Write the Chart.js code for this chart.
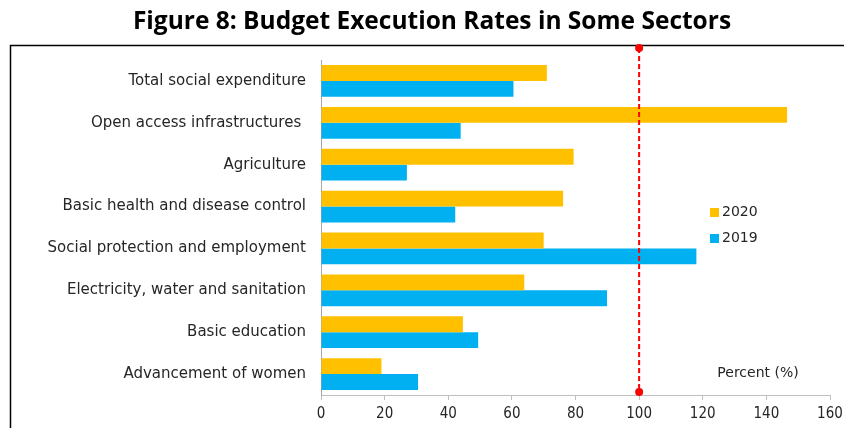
<!DOCTYPE html>
<html>
<head>
<meta charset="utf-8">
<script src="https://cdn.jsdelivr.net/npm/chart.js@4"></script>
<style>
  html, body { margin: 0; padding: 0; background: #fff; }
  #wrap { width: 844px; height: 428px; position: relative; }
</style>
</head>
<body>
<div id="wrap"><canvas id="budgetChart" width="844" height="428"></canvas></div>
<script>
const titleText = "Figure 8: Budget Execution Rates in Some Sectors";

const sectors = [
    "Total social expenditure",
    "Open access infrastructures ",
    "Agriculture",
    "Basic health and disease control",
    "Social protection and employment",
    "Electricity, water and sanitation",
    "Basic education",
    "Advancement of women"
];

const rates2020 = [71.0, 146.5, 79.4, 76.1, 70.0, 63.9, 44.6, 19.0];
const rates2019 = [60.5, 43.9, 27.0, 42.2, 118.0, 89.9, 49.4, 30.5];

const seriesLabels = ["2020", "2019"];
const seriesColors = ["#FFC000", "#00B0F0"];

const xTicks = [0, 20, 40, 60, 80, 100, 120, 140, 160];
const targetRate = 100;

const labelFont = "DejaVu Sans";

// frame, title, target line, legend and unit note
const decorations = {
    id: "decorations",
    beforeDraw(chart) {
        const ctx = chart.ctx;
        ctx.save();
        ctx.fillStyle = "#fff";
        ctx.fillRect(0, 0, chart.width, chart.height);
        ctx.strokeStyle = "#000";
        ctx.lineWidth = 1.5;
        ctx.beginPath();
        ctx.moveTo(10.5, chart.height);
        ctx.lineTo(10.5, 45.5);
        ctx.lineTo(chart.width, 45.5);
        ctx.stroke();

        ctx.fillStyle = "#000";
        ctx.font = "bold 24.5px 'Open Sans'";
        ctx.textAlign = "center";
        ctx.textBaseline = "middle";
        ctx.fillText(titleText, 432, 22);
        ctx.restore();
    },
    afterDatasetsDraw(chart) {
        const ctx = chart.ctx;
        const x = chart.scales.x.getPixelForValue(targetRate);
        const top = 48;
        const bottom = chart.chartArea.bottom - 3;
        ctx.save();
        ctx.strokeStyle = "#FF0000";
        ctx.lineWidth = 2;
        ctx.setLineDash([5, 3]);
        ctx.beginPath();
        ctx.moveTo(x, top);
        ctx.lineTo(x, bottom);
        ctx.stroke();
        ctx.setLineDash([]);
        ctx.fillStyle = "#FF0000";
        [top, bottom].forEach(y => {
            ctx.beginPath();
            ctx.arc(x, y, 4, 0, Math.PI * 2);
            ctx.fill();
        });

        // legend
        ctx.font = "14px " + labelFont;
        ctx.textAlign = "left";
        ctx.textBaseline = "middle";
        chart.data.datasets.forEach((ds, i) => {
            const y = 212 + i * 26;
            ctx.fillStyle = ds.backgroundColor;
            ctx.fillRect(710, y - 4, 9, 9);
            ctx.fillStyle = "#262626";
            ctx.fillText(ds.label, 722, y);
        });

        ctx.textAlign = "center";
        ctx.fillStyle = "#262626";
        ctx.fillText("Percent (%)", 758, 373);
        ctx.restore();
    }
};

new Chart(document.getElementById("budgetChart"), {
    type: "bar",
    data: {
        labels: sectors,
        datasets: [
            { label: seriesLabels[0], data: rates2020, backgroundColor: seriesColors[0] },
            { label: seriesLabels[1], data: rates2019, backgroundColor: seriesColors[1] }
        ]
    },
    options: {
        indexAxis: "y",
        responsive: false,
        animation: false,
        layout: { padding: { left: 0, right: 0, top: 60, bottom: 0 } },
        datasets: {
            bar: { categoryPercentage: 0.76, barPercentage: 1.0, borderWidth: 0 }
        },
        plugins: {
            legend: { display: false },
            tooltip: { enabled: false }
        },
        scales: {
            x: {
                min: 0,
                max: 160,
                afterFit(scale) {
                    scale.height = 33;
                    scale.paddingRight = 14;
                },
                afterBuildTicks(scale) { scale.ticks = xTicks.map(v => ({ value: v })); },
                grid: { drawOnChartArea: false, drawTicks: true, tickLength: 5, color: "#BFBFBF" },
                border: { display: true, color: "#BFBFBF", width: 1 },
                ticks: {
                    color: "#262626",
                    font: { family: "DejaVu Sans Condensed", size: 15 },
                    padding: 5
                }
            },
            y: {
                afterFit(scale) { scale.width = 321; },
                grid: { drawOnChartArea: false, drawTicks: false, color: "#BFBFBF" },
                border: { display: true, color: "#A6A6A6", width: 1 },
                ticks: {
                    color: "#262626",
                    font: { family: labelFont, size: 15 },
                    padding: 15
                }
            }
        }
    },
    plugins: [decorations]
});
</script>
</body>
</html>
